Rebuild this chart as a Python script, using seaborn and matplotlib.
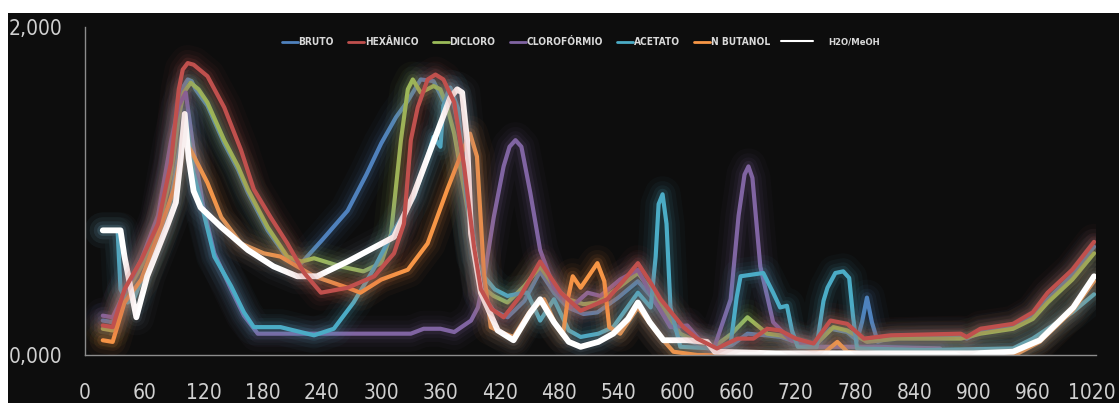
import matplotlib
matplotlib.use("Agg")
import matplotlib.pyplot as plt
import matplotlib.patheffects as pe
from matplotlib import font_manager as fm
from matplotlib.lines import Line2D
from matplotlib.patches import Rectangle
import seaborn as sns
import pandas as pd

# ---------------- data ----------------
series_names = ["BRUTO", "HEXÂNICO", "DICLORO", "CLOROFÓRMIO", "ACETATO", "N BUTANOL", "H2O/MeOH"]
series_colors = ["#4F81BD", "#C0504D", "#9BBB59", "#8064A2", "#4BACC6", "#F79646", "#FFFFFF"]

bruto_x = [18, 28, 40, 57, 74, 87, 95, 100, 104, 108, 112, 124, 141, 155, 165, 185, 205, 219, 240, 266, 285, 300,
           315, 327, 340, 353, 363, 370, 378, 390, 401, 414, 428, 445, 461, 475, 489, 505, 519, 540, 560, 573,
           586, 600, 615, 637, 655, 671, 690, 705, 720, 738, 755, 772, 782, 787, 792, 797, 803, 816, 850, 887,
           893, 907, 940, 960, 975, 1000, 1022]
bruto_y = [0.21, 0.20, 0.38, 0.56, 0.80, 1.15, 1.50, 1.64, 1.68, 1.67, 1.62, 1.52, 1.29, 1.13, 0.99, 0.76, 0.59,
           0.56, 0.70, 0.88, 1.10, 1.29, 1.45, 1.55, 1.68, 1.67, 1.55, 1.63, 1.40, 0.90, 0.38, 0.27, 0.23, 0.33,
           0.51, 0.38, 0.29, 0.25, 0.26, 0.35, 0.45, 0.36, 0.25, 0.14, 0.08, 0.03, 0.06, 0.13, 0.12, 0.11, 0.08,
           0.06, 0.16, 0.14, 0.09, 0.20, 0.35, 0.20, 0.08, 0.11, 0.12, 0.12, 0.10, 0.14, 0.17, 0.24, 0.34, 0.49,
           0.66]

hexanico_x = [18, 28, 40, 57, 74, 87, 95, 99, 104, 110, 124, 141, 158, 171, 188, 205, 222, 239, 266, 293, 313,
              323, 330, 337, 347, 355, 363, 374, 384, 394, 401, 412, 424, 441, 461, 482, 502, 529, 545, 560, 573,
              583, 606, 620, 640, 661, 677, 691, 704, 720, 738, 755, 772, 789, 816, 887, 893, 907, 940, 960, 975,
              1000, 1022]
hexanico_y = [0.18, 0.17, 0.40, 0.58, 0.80, 1.17, 1.62, 1.74, 1.78, 1.77, 1.70, 1.51, 1.25, 1.01, 0.84, 0.68,
              0.50, 0.38, 0.41, 0.48, 0.62, 0.80, 1.31, 1.51, 1.68, 1.71, 1.68, 1.54, 1.15, 0.66, 0.40, 0.28, 0.23,
              0.36, 0.57, 0.38, 0.27, 0.34, 0.45, 0.56, 0.44, 0.34, 0.17, 0.10, 0.04, 0.10, 0.10, 0.16, 0.15, 0.10,
              0.07, 0.21, 0.19, 0.10, 0.12, 0.13, 0.11, 0.16, 0.19, 0.26, 0.38, 0.52, 0.69]

dicloro_x = [18, 28, 40, 57, 74, 87, 95, 100, 107, 115, 124, 141, 155, 165, 185, 205, 219, 232, 259, 282, 300,
             310, 320, 327, 332, 340, 353, 360, 367, 374, 384, 393, 401, 414, 428, 445, 461, 475, 489, 505, 519,
             540, 560, 573, 586, 603, 620, 637, 655, 671, 691, 704, 720, 738, 758, 772, 792, 823, 887, 907, 940,
             960, 975, 1000, 1022]
dicloro_y = [0.16, 0.15, 0.36, 0.54, 0.76, 1.10, 1.45, 1.60, 1.66, 1.62, 1.54, 1.31, 1.15, 1.01, 0.78, 0.60,
             0.57, 0.59, 0.54, 0.51, 0.56, 0.74, 1.31, 1.62, 1.68, 1.60, 1.64, 1.62, 1.51, 1.35, 1.01, 0.70, 0.42,
             0.36, 0.32, 0.42, 0.54, 0.42, 0.34, 0.31, 0.32, 0.41, 0.50, 0.40, 0.29, 0.13, 0.08, 0.05, 0.13, 0.23,
             0.13, 0.12, 0.09, 0.05, 0.17, 0.15, 0.08, 0.10, 0.10, 0.13, 0.16, 0.22, 0.32, 0.46, 0.62]

cloro_x = [18, 28, 40, 57, 74, 87, 95, 102, 110, 120, 131, 148, 161, 175, 250, 330, 343, 360, 374, 391, 398,
           405, 414, 424, 430, 436, 442, 451, 461, 475, 492, 509, 522, 542, 560, 576, 593, 610, 623, 637, 654,
           662, 668, 672, 676, 684, 697, 715, 738, 800, 866]
cloro_y = [0.24, 0.23, 0.38, 0.58, 0.85, 1.30, 1.52, 1.60, 1.25, 0.90, 0.62, 0.40, 0.24, 0.13, 0.13, 0.13, 0.16,
           0.16, 0.14, 0.21, 0.29, 0.50, 0.84, 1.15, 1.27, 1.31, 1.27, 0.99, 0.64, 0.41, 0.29, 0.38, 0.36, 0.46,
           0.52, 0.34, 0.17, 0.18, 0.09, 0.04, 0.34, 0.85, 1.10, 1.15, 1.08, 0.54, 0.20, 0.09, 0.05, 0.05, 0.04]

acetato_x = [18, 33, 36, 43, 50, 60, 74, 87, 97, 102, 110, 120, 131, 148, 161, 171, 198, 232, 252, 272, 292,
             313, 333, 347, 353, 360, 363, 370, 378, 386, 394, 404, 415, 428, 444, 448, 461, 475, 490, 502, 520,
             535, 560, 573, 578, 581, 585, 589, 593, 603, 637, 654, 660, 664, 687, 697, 704, 711, 716, 722, 741,
             748, 752, 760, 768, 774, 778, 782, 850, 940, 960, 980, 1000, 1022]
acetato_y = [0.76, 0.76, 0.40, 0.32, 0.35, 0.50, 0.70, 0.94, 1.31, 1.45, 1.11, 0.87, 0.60, 0.42, 0.26, 0.17,
             0.17, 0.12, 0.16, 0.32, 0.52, 0.76, 0.96, 1.21, 1.33, 1.27, 1.52, 1.63, 1.50, 1.00, 0.60, 0.48, 0.40,
             0.36, 0.38, 0.38, 0.21, 0.34, 0.15, 0.11, 0.13, 0.17, 0.38, 0.29, 0.60, 0.92, 0.98, 0.80, 0.29, 0.05,
             0.04, 0.07, 0.35, 0.48, 0.50, 0.38, 0.29, 0.30, 0.15, 0.05, 0.05, 0.33, 0.41, 0.50, 0.51, 0.47, 0.23,
             0.04, 0.03, 0.04, 0.10, 0.18, 0.26, 0.37]

butanol_x = [18, 28, 40, 57, 77, 90, 100, 107, 124, 138, 158, 181, 198, 232, 266, 279, 300, 327, 347, 367, 380,
             390, 397, 404, 411, 421, 434, 451, 465, 478, 484, 489, 494, 502, 519, 526, 531, 542, 560, 580, 596,
             620, 700, 750, 762, 772, 800, 900, 945, 967, 1000, 1022]
butanol_y = [0.09, 0.08, 0.32, 0.46, 0.78, 1.01, 1.31, 1.25, 1.05, 0.84, 0.68, 0.62, 0.60, 0.48, 0.41, 0.38,
             0.46, 0.52, 0.68, 1.01, 1.21, 1.35, 1.21, 0.50, 0.17, 0.14, 0.11, 0.27, 0.34, 0.17, 0.12, 0.34, 0.48,
             0.41, 0.56, 0.45, 0.17, 0.13, 0.29, 0.13, 0.02, 0.00, 0.00, 0.02, 0.08, 0.02, 0.00, 0.00, 0.01, 0.08,
             0.27, 0.45]

agua_x = [18, 36, 40, 52, 63, 84, 92, 97, 101, 105, 110, 117, 138, 165, 191, 215, 235, 266, 313, 333, 353, 370,
          377, 382, 387, 391, 401, 418, 434, 450, 461, 475, 490, 502, 520, 535, 550, 560, 572, 586, 610, 630, 638,
          700, 800, 900, 940, 967, 1001, 1022]
agua_y = [0.76, 0.76, 0.60, 0.23, 0.48, 0.80, 0.93, 1.20, 1.47, 1.20, 1.00, 0.90, 0.78, 0.64, 0.54, 0.48, 0.48,
          0.57, 0.72, 0.98, 1.30, 1.57, 1.62, 1.60, 1.31, 0.74, 0.38, 0.15, 0.09, 0.25, 0.34, 0.20, 0.08, 0.05,
          0.08, 0.13, 0.22, 0.32, 0.20, 0.09, 0.09, 0.08, 0.02, 0.01, 0.01, 0.01, 0.02, 0.09, 0.29, 0.48]

x_ticks = [0, 60, 120, 180, 240, 300, 360, 420, 480, 540, 600, 660, 720, 780, 840, 900, 960, 1020]
y_ticks = [0.0, 2.0]
y_tick_labels = ["0,000", "2,000"]

xs = [bruto_x, hexanico_x, dicloro_x, cloro_x, acetato_x, butanol_x, agua_x]
ys = [bruto_y, hexanico_y, dicloro_y, cloro_y, acetato_y, butanol_y, agua_y]

frames = []
for name, xv, yv in zip(series_names, xs, ys):
    frames.append(pd.DataFrame({"x": xv, "y": yv, "serie": name}))
df = pd.concat(frames, ignore_index=True)

# ---------------- fonts: look for a condensed face ----------------
def find_condensed(bold=False):
    best = None
    for f in fm.fontManager.ttflist:
        fn = f.fname.lower()
        nm = f.name.lower()
        cond = ("narrow" in fn or "condensed" in fn or "narrow" in nm or "condensed" in nm
                or str(f.stretch) in ("condensed", "semi-condensed", "extra-condensed"))
        if not cond or "italic" in fn or "oblique" in fn or f.style != "normal":
            continue
        isbold = (f.weight in ("bold", 700) or "bold" in fn)
        if isbold != bold:
            continue
        score = 0
        if "liberation" in fn:
            score = 3
        elif "dejavu" in fn:
            score = 2
        elif "roboto" in fn or "opensans" in fn or "open sans" in nm:
            score = 1
        if best is None or score > best[0]:
            best = (score, f.fname)
    return best[1] if best else None

cond_regular = find_condensed(False)
cond_bold = find_condensed(True)

sns.set_theme(style="dark")
plt.rcParams["font.family"] = ["Liberation Sans", "DejaVu Sans"]

if cond_regular:
    tick_fp = fm.FontProperties(fname=cond_regular, size=15)
else:
    tick_fp = fm.FontProperties(family=["Liberation Sans", "DejaVu Sans"], size=14)
if cond_bold:
    leg_fp = fm.FontProperties(fname=cond_bold, size=7.3)
    leg_fp2 = fm.FontProperties(fname=cond_bold, size=6.8)
else:
    leg_fp = fm.FontProperties(family=["Liberation Sans", "DejaVu Sans"], weight="bold", size=6.5)
    leg_fp2 = fm.FontProperties(family=["Liberation Sans", "DejaVu Sans"], weight="bold", size=6)

# ---------------- figure ----------------
BG = "#0d0d0d"
fig = plt.figure(figsize=(11.19, 4.03), dpi=100, facecolor="white")
fig.patches.append(Rectangle((8 / 1119, 0), 1.0, (403 - 13) / 403, transform=fig.transFigure,
                             facecolor=BG, edgecolor="none", zorder=-10))
ax = fig.add_axes([85 / 1119, 48 / 403, (1096 - 85) / 1119, (355 - 27) / 403])
ax.set_facecolor(BG)

draw_order = ["BRUTO", "DICLORO", "CLOROFÓRMIO", "ACETATO", "N BUTANOL", "H2O/MeOH", "HEXÂNICO"]
palette = dict(zip(series_names, series_colors))
sns.lineplot(data=df, x="x", y="y", hue="serie", hue_order=draw_order, palette=palette,
             sort=False, estimator=None, legend=False, linewidth=3.0, ax=ax)

for line, name in zip(ax.get_lines(), draw_order):
    c = palette[name]
    glow = "#7f93a6" if name == "H2O/MeOH" else c
    if name == "H2O/MeOH":
        line.set_linewidth(4.2)
    line.set_solid_capstyle("round")
    line.set_solid_joinstyle("round")
    line.set_path_effects([
        pe.Stroke(linewidth=26, foreground=glow, alpha=0.035),
        pe.Stroke(linewidth=19, foreground=glow, alpha=0.05),
        pe.Stroke(linewidth=13, foreground=glow, alpha=0.07),
        pe.Stroke(linewidth=8, foreground=glow, alpha=0.12),
        pe.Normal(),
    ])

ax.set_xlim(0, 1024)
ax.set_ylim(0, 2.0)
ax.set_xticks(x_ticks)
ax.set_xticklabels([str(v) for v in x_ticks])
ax.set_yticks(y_ticks)
ax.set_yticklabels(y_tick_labels)
for lab in ax.get_xticklabels() + ax.get_yticklabels():
    lab.set_fontproperties(tick_fp)
ax.set_xlabel("")
ax.set_ylabel("")
ax.grid(False)
ax.tick_params(axis="both", length=0, colors="#d0d0d0")
ax.tick_params(axis="x", pad=20)
ax.tick_params(axis="y", pad=16)
for s in ["top", "right"]:
    ax.spines[s].set_visible(False)
for s in ["left", "bottom"]:
    ax.spines[s].set_visible(True)
    ax.spines[s].set_color("#8c8c8c")
    ax.spines[s].set_linewidth(1.0)

# ---------------- legends ----------------
handles = [Line2D([], [], color=palette[n], linewidth=2) for n in series_names[:6]]
leg1 = ax.legend(handles, series_names[:6], ncol=6, loc="center", bbox_to_anchor=(0.436, 0.954),
                 frameon=False, handlelength=1.6, handletextpad=0.05, columnspacing=1.4,
                 prop=leg_fp, labelcolor="#d9d9d9", borderaxespad=0)
ax.add_artist(leg1)
leg2 = ax.legend([Line2D([], [], color="white", linewidth=1.5)], ["H2O/MeOH"], loc="center",
                 bbox_to_anchor=(0.737, 0.954), frameon=False, handlelength=3.4, handletextpad=1.6,
                 prop=leg_fp2, labelcolor="#d9d9d9", borderaxespad=0)

fig.savefig("out.png", dpi=100, facecolor=fig.get_facecolor())
